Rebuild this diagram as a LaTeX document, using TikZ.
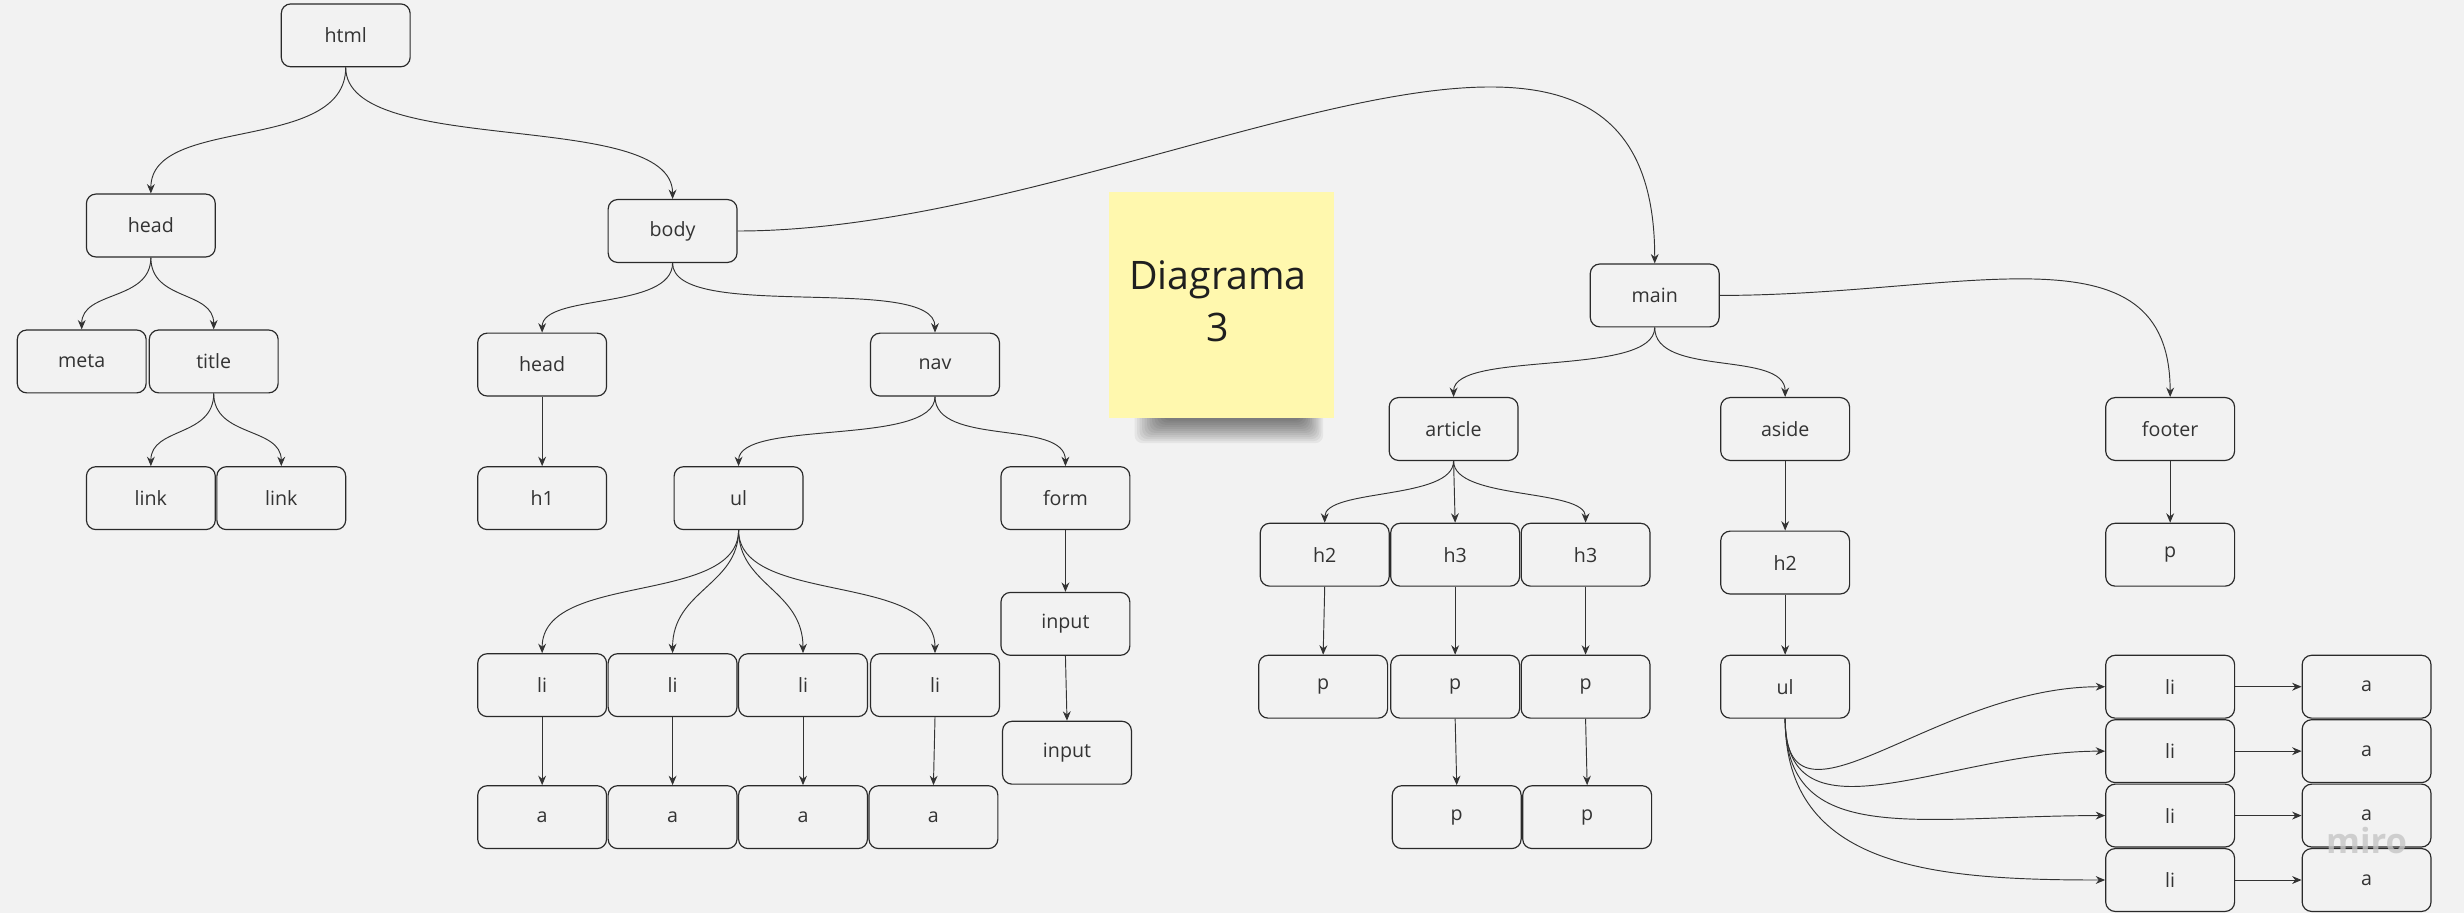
\documentclass[tikz,border=0pt]{standalone}
\usepackage{fontspec}
\setmainfont{Open Sans}
\usetikzlibrary{arrows.meta}
\definecolor{bg}{HTML}{F2F2F2}
\definecolor{ln}{HTML}{333333}
\definecolor{bd}{HTML}{2A2A2A}
\definecolor{sticky}{HTML}{FFF8AE}
\begin{document}
\begin{tikzpicture}[x=1pt,y=-1pt,
  box/.style={draw=bd, line width=0.75pt, rounded corners=6pt, minimum width=82pt, minimum height=40pt, fill=bg, text=ln, font=\fontsize{12.5}{14}\selectfont, inner sep=0pt},
  conn/.style={draw=ln, line width=0.6pt, -{Stealth[length=6pt,width=5pt]}},
  shadowlayer/.style={fill=black, opacity=0.05, rounded corners=5pt}]
\fill[bg] (0,0) rectangle (1568,581);
\useasboundingbox (0,0) rectangle (1568,581);
% left tree
\node[box] (html) at (220,22.5) {html};
\node[box] (head) at (96,143.5) {head};
\node[box] (body) at (428,147) {body};
\node[box] (meta) at (52,230) {meta};
\node[box] (title) at (136,230) {title};
\node[box] (linka) at (96,317) {link};
\node[box] (linkb) at (179,317) {link};
\node[box] (headb) at (345,232) {head};
\node[box] (nav) at (595,232) {nav};
\node[box] (hone) at (345,317) {h1};
\node[box] (ula) at (470,317) {ul};
\node[box] (form) at (678,317) {form};
\node[box] (inputa) at (678,397) {input};
\node[box] (inputb) at (679,479) {input};
\node[box] (lia) at (345,436) {li};
\node[box] (lib) at (428,436) {li};
\node[box] (lic) at (511,436) {li};
\node[box] (lid) at (595,436) {li};
\node[box] (aa) at (345,520) {a};
\node[box] (ab) at (428,520) {a};
\node[box] (ac) at (511,520) {a};
\node[box] (ad) at (594,520) {a};
% sticky note with soft shadow
\foreach \i in {0,...,11} {
  \fill[shadowlayer] (722+\i*1.6,240) rectangle (842-\i*1.2,282-\i*1.3);
}
\node[minimum width=143pt, minimum height=144pt, inner sep=0pt, fill=sticky] (note) at (777.5,194) {};
\node[align=center, text=black!88, font=\fontsize{25}{33}\selectfont] (notetext) at (775,191.5) {Diagrama\\3};
% right tree
\node[box] (main) at (1053,188) {main};
\node[box] (article) at (925,273) {article};
\node[box] (aside) at (1136,273) {aside};
\node[box] (footer) at (1381,273) {footer};
\node[box] (htwo) at (843,353) {h2};
\node[box] (hthreea) at (926,353) {h3};
\node[box] (hthreeb) at (1009,353) {h3};
\node[box] (pa) at (842,437) {p};
\node[box] (pb) at (926,437) {p};
\node[box] (pc) at (1009,437) {p};
\node[box] (pd) at (927,520) {p};
\node[box] (pe) at (1010,520) {p};
\node[box] (htwob) at (1136,358) {h2};
\node[box] (ulb) at (1136,437) {ul};
\node[box] (pf) at (1381,353) {p};
\node[box] (lie) at (1381,437) {li};
\node[box] (lif) at (1381,478) {li};
\node[box] (lig) at (1381,519) {li};
\node[box] (lih) at (1381,560) {li};
\node[box] (ae) at (1506,437) {a};
\node[box] (af) at (1506,478) {a};
\node[box] (ag) at (1506,519) {a};
\node[box] (ah) at (1506,560) {a};
% connectors left
\draw[conn] (html.south) .. controls +(0,55) and +(0,-50) .. (head.north);
\draw[conn] (html.south) .. controls +(0,58) and +(0,-58) .. (body.north);
\draw[conn] (head.south) .. controls +(0,28) and +(0,-25) .. (meta.north);
\draw[conn] (head.south) .. controls +(0,28) and +(0,-25) .. (title.north);
\draw[conn] (title.south) .. controls +(0,28) and +(0,-25) .. (linka.north);
\draw[conn] (title.south) .. controls +(0,28) and +(0,-25) .. (linkb.north);
\draw[conn] (body.south) .. controls +(0,30) and +(0,-25) .. (headb.north);
\draw[conn] (body.south) .. controls +(0,38) and +(0,-38) .. (nav.north);
\draw[conn] (headb.south) -- (hone.north);
\draw[conn] (nav.south) .. controls +(0,32) and +(0,-30) .. (ula.north);
\draw[conn] (nav.south) .. controls +(0,32) and +(0,-30) .. (form.north);
\draw[conn] (ula.south) .. controls +(0,48) and +(0,-52) .. (lia.north);
\draw[conn] (ula.south) .. controls +(0,35) and +(0,-40) .. (lib.north);
\draw[conn] (ula.south) .. controls +(0,35) and +(0,-40) .. (lic.north);
\draw[conn] (ula.south) .. controls +(0,48) and +(0,-52) .. (lid.north);
\draw[conn] (lia.south) -- (aa.north);
\draw[conn] (lib.south) -- (ab.north);
\draw[conn] (lic.south) -- (ac.north);
\draw[conn] (lid.south) -- (ad.north);
\draw[conn] (form.south) -- (inputa.north);
\draw[conn] (inputa.south) -- (inputb.north);
% connectors right
\draw[conn] (body.east) .. controls (720,147) and (1053,-70) .. (main.north);
\draw[conn] (main.east) .. controls (1250,188) and (1381,140) .. (footer.north);
\draw[conn] (main.south) .. controls +(0,32) and +(0,-30) .. (article.north);
\draw[conn] (main.south) .. controls +(0,32) and +(0,-30) .. (aside.north);
\draw[conn] (article.south) .. controls +(0,25) and +(0,-22) .. (htwo.north);
\draw[conn] (article.south) -- (hthreea.north);
\draw[conn] (article.south) .. controls +(0,25) and +(0,-22) .. (hthreeb.north);
\draw[conn] (htwo.south) -- (pa.north);
\draw[conn] (hthreea.south) -- (pb.north);
\draw[conn] (hthreeb.south) -- (pc.north);
\draw[conn] (pb.south) -- (pd.north);
\draw[conn] (pc.south) -- (pe.north);
\draw[conn] (aside.south) -- (htwob.north);
\draw[conn] (htwob.south) -- (ulb.north);
\draw[conn] (footer.south) -- (pf.north);
\draw[conn] (ulb.south) .. controls +(0,83) and +(-110,0) .. (lie.west);
\draw[conn] (ulb.south) .. controls +(0,83) and +(-100,0) .. (lif.west);
\draw[conn] (ulb.south) .. controls +(0,83) and +(-120,0) .. (lig.west);
\draw[conn] (ulb.south) .. controls +(0,95) and +(-110,0) .. (lih.west);
\draw[conn] (lie.east) -- (ae.west);
\draw[conn] (lif.east) -- (af.west);
\draw[conn] (lig.east) -- (ag.west);
\draw[conn] (lih.east) -- (ah.west);
% watermark
\node[text=gray!45, opacity=0.8, font=\fontsize{22}{24}\selectfont\bfseries] (logo) at (1506,535) {miro};
\end{tikzpicture}
\end{document}
